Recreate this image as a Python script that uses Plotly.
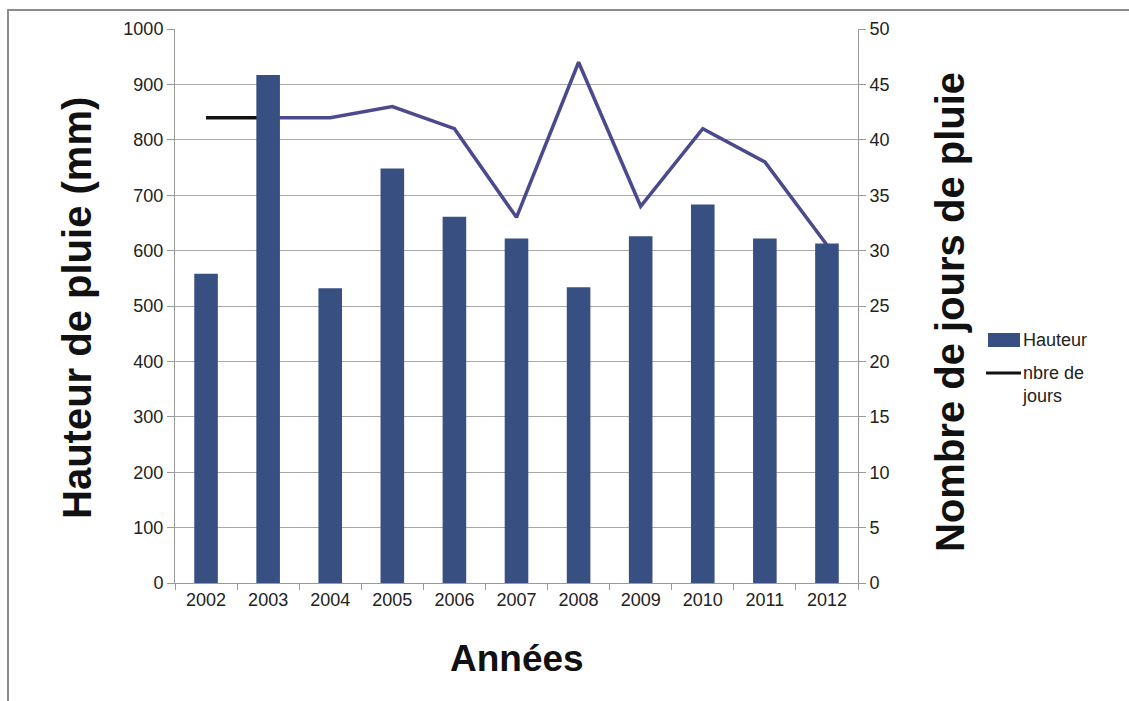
import plotly.graph_objects as go

# Annual rainfall: height (mm) as bars, number of rainy days as a line
annees = ["2002", "2003", "2004", "2005", "2006", "2007", "2008", "2009", "2010", "2011", "2012"]
hauteur_mm = [558, 917, 532, 748, 661, 622, 534, 626, 683, 622, 613]
jours_pluie = [42, 42, 42, 43, 41, 33, 47, 34, 41, 38, 30.5]

ticks_hauteur = [0, 100, 200, 300, 400, 500, 600, 700, 800, 900, 1000]
ticks_jours = [0, 5, 10, 15, 20, 25, 30, 35, 40, 45, 50]

W, H = 1129, 701
L, R, T, B = 175, 271, 29, 118
PW, PH = W - L - R, H - T - B

BAR_COLOR = "#384f82"
LINE_COLOR = "#4a4a8c"
AXIS_GRAY = "#9a9a9a"
TICK_FONT = dict(family="Liberation Sans, Arial, sans-serif", size=18, color="#222222")


def px_x(x):
    return (x - L) / PW


def px_y(y):
    return (T + PH - y) / PH


fig = go.Figure()

# Line (days) on the primary axis so the bars (overlaying axis) sit on top
fig.add_trace(go.Scatter(x=annees[1:], y=jours_pluie[1:], mode="lines",
                         line=dict(color=LINE_COLOR, width=3.5),
                         yaxis="y", showlegend=False, hoverinfo="x+y"))
fig.add_trace(go.Scatter(x=annees[:2], y=jours_pluie[:2], mode="lines",
                         line=dict(color="#111111", width=3.5),
                         yaxis="y", showlegend=False, hoverinfo="x+y"))

fig.add_trace(go.Bar(x=annees, y=hauteur_mm, marker=dict(color=BAR_COLOR, line=dict(width=0)),
                     yaxis="y2", showlegend=False, name="Hauteur"))

fig.update_layout(
    width=W, height=H,
    margin=dict(l=L, r=R, t=T, b=B),
    paper_bgcolor="white", plot_bgcolor="white",
    bargap=0.62,
    xaxis=dict(type="category", categoryorder="array", categoryarray=annees,
               tickson="boundaries", ticks="outside", ticklen=6,
               tickcolor=AXIS_GRAY, showline=True, linecolor=AXIS_GRAY, linewidth=1,
               showgrid=False, tickfont=TICK_FONT),
    yaxis=dict(side="right", range=[0, 50], tickvals=ticks_jours,
               ticktext=[str(v) for v in ticks_jours],
               showgrid=True, gridcolor="#a8a8a8", gridwidth=1,
               showline=True, linecolor=AXIS_GRAY, ticks="outside", ticklen=7,
               tickcolor=AXIS_GRAY, tickfont=TICK_FONT, zeroline=False),
    yaxis2=dict(side="left", overlaying="y", range=[0, 1000], tickvals=ticks_hauteur,
                ticktext=[str(v) for v in ticks_hauteur],
                showgrid=False, showline=True, linecolor=AXIS_GRAY, ticks="outside",
                ticklen=7, tickcolor=AXIS_GRAY, tickfont=TICK_FONT, zeroline=False),
)

TITLE_FONT = dict(family="Liberation Sans, Arial, sans-serif", size=40, color="#111111")

fig.add_annotation(text="<b>Hauteur de pluie (mm)</b>", textangle=-90,
                   x=px_x(77), y=px_y(308), xref="paper", yref="paper",
                   xanchor="center", yanchor="middle",
                   showarrow=False, font=TITLE_FONT)
fig.add_annotation(text="<b>Nombre de jours de pluie</b>", textangle=-90,
                   x=px_x(950), y=px_y(312), xref="paper", yref="paper",
                   xanchor="center", yanchor="middle",
                   showarrow=False, font=dict(TITLE_FONT, size=40))
fig.add_annotation(text="<b>Années</b>", x=px_x(517), y=px_y(658),
                   xref="paper", yref="paper", xanchor="center", yanchor="middle",
                   showarrow=False, font=dict(TITLE_FONT, size=37))

# Legend keys
LEG_FONT = dict(family="Liberation Sans, Arial, sans-serif", size=18, color="#222222")
fig.add_shape(type="rect", xref="paper", yref="paper",
              x0=px_x(988), x1=px_x(1020), y0=px_y(347), y1=px_y(333),
              fillcolor=BAR_COLOR, line=dict(width=0))
fig.add_annotation(text="Hauteur", x=px_x(1021), y=px_y(340), xref="paper", yref="paper",
                   xanchor="left", yanchor="middle", showarrow=False, font=LEG_FONT)
fig.add_shape(type="line", xref="paper", yref="paper",
              x0=px_x(986), x1=px_x(1021), y0=px_y(373), y1=px_y(373),
              line=dict(color="#111111", width=3))
fig.add_annotation(text="nbre de<br>jours", x=px_x(1020), y=px_y(361),
                   xref="paper", yref="paper", xanchor="left", yanchor="top",
                   align="left", showarrow=False, font=LEG_FONT)

# Outer chart frame
fig.add_shape(type="rect", xref="paper", yref="paper", layer="above",
              x0=px_x(8), x1=px_x(W + 20), y0=px_y(H + 20), y1=px_y(10),
              line=dict(color="#8c8c8c", width=2), fillcolor="rgba(0,0,0,0)")

fig.write_html("out.html")
